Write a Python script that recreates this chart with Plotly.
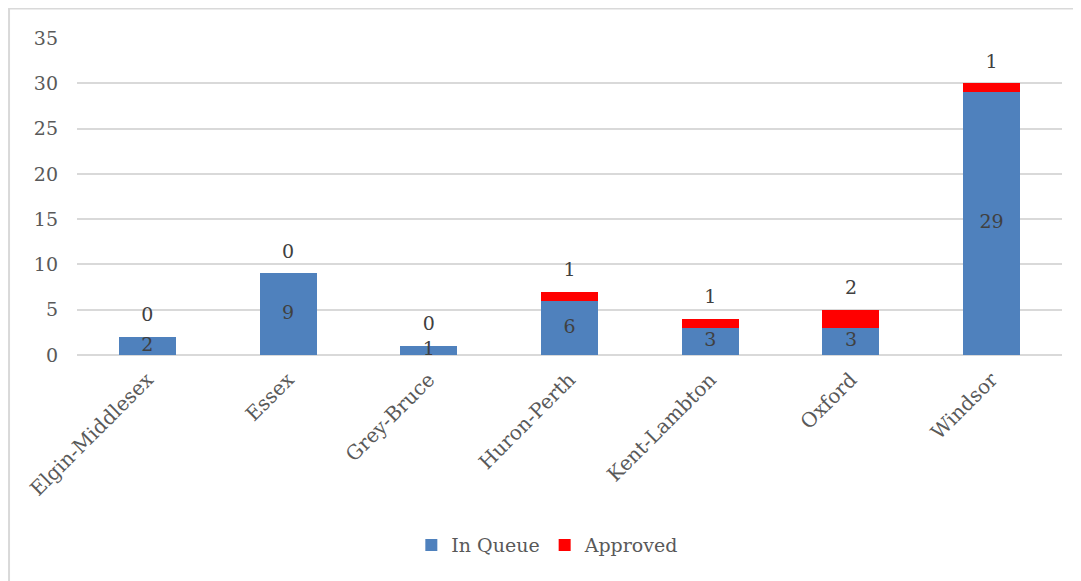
import plotly.graph_objects as go

regions = ["Elgin-Middlesex", "Essex", "Grey-Bruce", "Huron-Perth",
           "Kent-Lambton", "Oxford", "Windsor"]
in_queue = [2, 9, 1, 6, 3, 3, 29]
approved = [0, 0, 0, 1, 1, 2, 1]

BLUE = "#4F81BD"
RED = "#FF0000"
TEXT = "#595959"
FONT = "DejaVu Serif"

totals = [q + a for q, a in zip(in_queue, approved)]
mid_queue = [q / 2 for q in in_queue]

fig = go.Figure()
fig.add_trace(go.Bar(x=regions, y=in_queue, name="In Queue",
                     marker=dict(color=BLUE, line=dict(width=0))))
fig.add_trace(go.Bar(x=regions, y=approved, name="Approved",
                     marker=dict(color=RED, line=dict(width=0))))

# value labels: queue count centred in the blue segment, approved count above the stack
fig.add_trace(go.Scatter(x=regions, y=mid_queue, mode="text",
                         text=[str(v) for v in in_queue],
                         textposition="middle center",
                         textfont=dict(family=FONT, size=19, color="#404040"),
                         showlegend=False, hoverinfo="skip"))
# invisible markers push the approved labels a bit higher above the stack
fig.add_trace(go.Scatter(x=regions, y=totals, mode="markers+text",
                         marker=dict(size=16, opacity=0),
                         text=[str(v) for v in approved],
                         textposition="top center",
                         textfont=dict(family=FONT, size=19, color="#404040"),
                         showlegend=False, hoverinfo="skip"))

# outer chart border (page body adds an 8px offset, so the figure is 8px smaller)
fig.add_shape(type="rect", xref="paper", yref="paper",
              x0=-0.069, x1=1.2, y0=-1.2, y1=1.093,
              line=dict(color="#D9D9D9", width=2), fillcolor="rgba(0,0,0,0)",
              layer="below")

fig.update_layout(
    width=1073, height=573,
    barmode="stack", bargap=0.595,
    paper_bgcolor="white", plot_bgcolor="white",
    font=dict(family=FONT, size=18, color=TEXT),
    margin=dict(l=69, r=19, t=30, b=226, autoexpand=False),
    xaxis=dict(tickangle=-45, showline=False, ticks="", automargin=False,
               tickfont=dict(size=20, color=TEXT), ticklabelstandoff=8),
    yaxis=dict(range=[0, 35], dtick=5, showgrid=True, gridcolor="#D9D9D9",
               gridwidth=2, zeroline=True, zerolinecolor="#D9D9D9",
               zerolinewidth=2, tickfont=dict(size=19, color=TEXT),
               ticklabelstandoff=18, automargin=False),
    legend=dict(orientation="h", x=0.478, xanchor="center", y=-0.6,
                yanchor="middle", font=dict(size=19, color=TEXT),
                itemwidth=30, traceorder="normal"),
    showlegend=True,
)

fig.write_html("out.html")
